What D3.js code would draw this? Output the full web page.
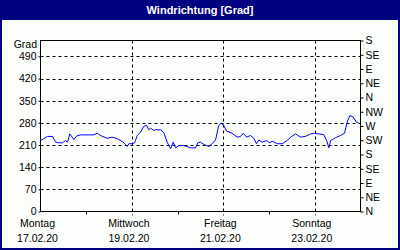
<!DOCTYPE html>
<html>
<head>
<meta charset="utf-8">
<script src="https://cdn.jsdelivr.net/npm/d3@7"></script>
<style>
  body { margin: 0; background: #fff; }
  text { font-family: "Liberation Sans", Arial, sans-serif; font-size: 10.5px; fill: #000; }
</style>
</head>
<body>
<div id="chart"></div>
<script>
// hours after Mo 17.02.20 00:00 and wind direction in degrees
const hours = [0, 1.7, 3.7, 6.3, 7.9, 9.5, 11.6, 13.1, 14.2, 15.4, 16.6, 17.5, 18.9, 21, 27.8,
  29.8, 31.5, 35, 37.6, 40.3, 42.9, 44.6, 45.5, 46.4, 48.1, 49.4, 50.8, 52.5, 54.2, 55.7,
  56.9, 57.8, 59.5, 60.4, 63, 64.7, 66.5, 68.3, 69.7, 70.9, 72.6, 75.2, 77, 78.8, 81.4,
  82.6, 84, 85.7, 88.4, 90.1, 91.9, 93.6, 94.9, 96.2, 97.7, 100.6, 103.3, 105, 106.4,
  108.2, 110.3, 112, 113.4, 114.6, 116.4, 118.7, 120.4, 121.6, 124.3, 126.9, 129.5,
  131.3, 133.9, 136.5, 139.1, 141.8, 143.5, 146.1, 148.7, 150.2, 151.4, 152.3, 154.9,
  157.5, 159.6, 161, 162.4, 164.2, 165.9, 167.1];
const degrees = [224, 230, 237, 237, 219, 217, 217, 224, 219, 245, 235, 227, 238, 242, 242,
  247, 240, 231, 235, 230, 221, 212, 205, 214, 214, 217, 240, 250, 269, 272,
  258, 263, 256, 258, 258, 250, 219, 198, 219, 201, 208, 208, 205, 201, 201,
  217, 219, 212, 205, 214, 226, 272, 279, 272, 254, 247, 235, 237, 247,
  235, 240, 231, 214, 226, 219, 224, 217, 222, 214, 214, 224,
  235, 245, 235, 237, 245, 247, 245, 243, 224, 201, 224, 233,
  240, 247, 282, 303, 298, 282, 279];

const leftTicks = [0, 70, 140, 210, 280, 350, 420, 490];
const compassNames = ["N", "NE", "E", "SE", "S", "SW", "W", "NW", "N", "NE", "E", "SE", "S"];
const dayNames = ["Montag", "Mittwoch", "Freitag", "Sonntag"];
const title = "Windrichtung [Grad]";
const unit = "Grad";

const start = new Date(2020, 1, 17);
const end = new Date(2020, 1, 24);
const data = hours.map((h, i) => ({ t: new Date(start.getTime() + h * 3600e3), v: degrees[i] }));

const W = 400, H = 250;
const plot = { left: 40.5, right: 360.5, top: 40.5, bottom: 211.5 };

const svg = d3.select("#chart").append("svg").attr("width", W).attr("height", H);

// window frame
svg.append("rect").attr("width", W).attr("height", H).attr("fill", "#000080");
svg.append("rect").attr("x", 2).attr("y", 20).attr("width", W - 4).attr("height", H - 22)
  .attr("fill", "#fbfefb");
svg.append("text").attr("x", W / 2).attr("y", 14).attr("text-anchor", "middle")
  .style("font-weight", "bold").style("font-size", "11px").style("fill", "#fff")
  .text(title);

const x = d3.scaleTime().domain([start, end]).range([plot.left, plot.right]);
const y = d3.scaleLinear().domain([0, 540]).range([plot.bottom, plot.top]);

// horizontal grid
svg.append("g").selectAll("line").data(leftTicks.filter(d => d > 0)).join("line")
  .attr("x1", plot.left).attr("x2", plot.right)
  .attr("y1", d => Math.round(y(d)) + 0.5).attr("y2", d => Math.round(y(d)) + 0.5)
  .attr("stroke", "#000").attr("stroke-dasharray", "3,3");

// vertical grid at major days (every second day)
const majorDays = d3.timeDay.range(start, end, 2);
svg.append("g").selectAll("line").data(majorDays.slice(1)).join("line")
  .attr("x1", d => Math.round(x(d)) + 0.5).attr("x2", d => Math.round(x(d)) + 0.5)
  .attr("y1", plot.top).attr("y2", plot.bottom + 4)
  .attr("stroke", "#000").attr("stroke-dasharray", "3,3");

// minor ticks on odd days
const minorDays = d3.timeDay.range(start, end).filter((d, i) => i % 2 === 1);
svg.append("g").selectAll("line").data(minorDays).join("line")
  .attr("x1", d => Math.round(x(d)) + 0.5).attr("x2", d => Math.round(x(d)) + 0.5)
  .attr("y1", plot.bottom).attr("y2", plot.bottom + 3)
  .attr("stroke", "#000");

// plot frame
svg.append("rect").attr("x", plot.left).attr("y", plot.top)
  .attr("width", plot.right - plot.left).attr("height", plot.bottom - plot.top)
  .attr("fill", "none").attr("stroke", "#000");

// left axis
const leftAxis = svg.append("g").attr("transform", `translate(${plot.left},0)`)
  .call(d3.axisLeft(y).tickValues(leftTicks).tickSize(2).tickPadding(2));
leftAxis.select(".domain").remove();
leftAxis.selectAll("text").style("font-family", null).style("font-size", null);
svg.append("text").attr("x", 37).attr("y", 48).attr("text-anchor", "end").text(unit);

// right axis (compass)
const rightAxis = svg.append("g").attr("transform", `translate(${plot.right},0)`)
  .call(d3.axisRight(y).tickValues(d3.range(0, 541, 45))
    .tickFormat((d, i) => compassNames[i]).tickSize(3).tickPadding(2));
rightAxis.select(".domain").remove();

svg.selectAll(".tick line").attr("stroke", "#000");
svg.selectAll(".tick text").attr("font-family", null).attr("font-size", null);

// bottom labels
const labels = svg.append("g").selectAll("g").data(majorDays).join("g")
  .attr("transform", d => `translate(${x(d) - 3},0)`);
labels.append("text").attr("y", 227).attr("text-anchor", "middle").text((d, i) => dayNames[i]);
labels.append("text").attr("y", 242).attr("text-anchor", "middle").text(d3.timeFormat("%d.%m.%y"));

// data line
svg.append("path").datum(data)
  .attr("fill", "none").attr("stroke", "#0000ff").attr("stroke-width", 1)
  .attr("d", d3.line().x(d => x(d.t)).y(d => y(d.v)));
</script>
</body>
</html>
